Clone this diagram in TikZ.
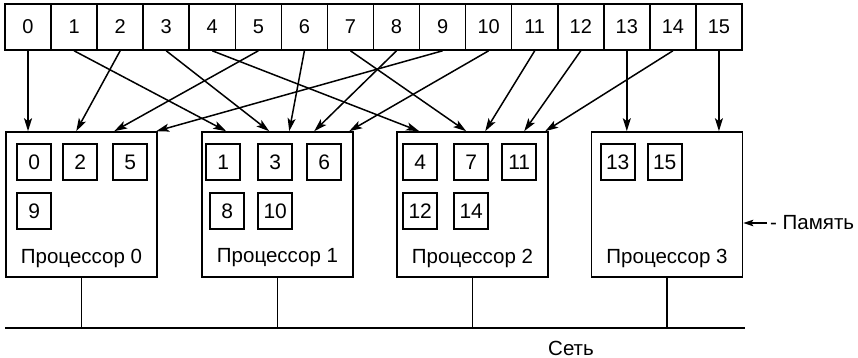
\documentclass[tikz,border=0pt]{standalone}
\usepackage{fontspec}
\setmainfont{Liberation Sans}
\usetikzlibrary{arrows.meta,calc}
\begin{document}
\begin{tikzpicture}[x=1pt,y=-1pt,
  cell/.style={draw,line width=1.6pt,minimum width=46.06pt,minimum height=46pt,inner sep=0pt,font=\fontsize{20}{22}\selectfont},
  proc/.style={draw,line width=1.6pt,minimum width=151pt,minimum height=145pt,inner sep=0pt},
  mini/.style={draw,line width=1.6pt,minimum width=34pt,minimum height=36pt,inner sep=0pt,font=\fontsize{21}{24}\selectfont},
  plabel/.style={font=\fontsize{20.5}{23}\selectfont,inner sep=0pt},
  arr/.style={line width=1.5pt,-{Stealth[length=13pt,width=8pt,inset=3pt]}},
  sarr/.style={line width=1.5pt,-{Stealth[length=10pt,width=6.5pt,inset=2pt]}},
  wire/.style={line width=1.5pt}]
\useasboundingbox (0,0) rectangle (858,358);
% memory cells
\foreach \i in {0,...,15} \node[cell] (c\i) at ({5+46.06*(\i+0.5)},27) {\i};
% processors
\foreach \k/\x in {0/81.5,1/277.5,2/472.5,3/667} {
  \node[proc] (p\k) at (\x,204.5) {};
  \node[plabel] (l\k) at (\x,258) {Процессор \k};
}
% local cells
\foreach \v/\k/\dx/\dy in {0/0/29/31, 2/0/75/31, 5/0/125/31, 9/0/29/80,
                           1/1/22/31, 3/1/74/31, 6/1/123/31, 8/1/26/80, 10/1/74/80,
                           4/2/24/31, 7/2/75/31, 11/2/123/31, 12/2/24/80, 14/2/75/80,
                           13/3/27/31, 15/3/74/31}
  \node[mini] (m\v) at ($(p\k.north west)+(\dx,\dy)$) {\v};
% distribution arrows
\foreach \s/\k/\dx in {1/1/25, 2/0/71, 3/1/68, 4/2/23, 5/0/109, 6/1/88, 7/2/70,
                       8/1/113, 9/0/151, 10/1/148, 11/2/89, 12/2/128, 14/2/149}
  \draw[arr] (c\s.south) -- ($(p\k.north west)+(\dx,0)$);
\draw[arr] (c0.south) -- (c0.south |- p0.north);
\draw[arr] (c13.south) -- (c13.south |- p3.north);
\draw[arr] (c15.south) -- (c15.south |- p3.north);
% network
\coordinate (busL) at (5,328);
\coordinate (busR) at (745,328);
\draw[wire] (busL) -- (busR);
\foreach \k in {0,...,3} \draw[wire] (p\k.south) -- (p\k.south |- busL);
\node[plabel] (net) at (571,348) {Сеть};
% memory label
\node[plabel,anchor=west] (mem) at (770,223) {- Память};
\draw[sarr,shorten <=3pt] (mem.west) -- (mem.west -| p3.east);
\end{tikzpicture}
\end{document}
